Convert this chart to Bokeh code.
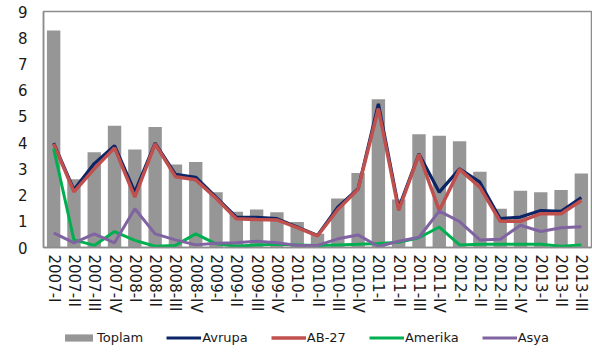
from bokeh.plotting import figure
from bokeh.layouts import column
from bokeh.models import FactorRange, Range1d, Legend, LegendItem, FixedTicker, ColumnDataSource
from bokeh.embed import file_html
from bokeh.resources import INLINE

categories = ["2007-I", "2007-II", "2007-III", "2007-IV",
              "2008-I", "2008-II", "2008-III", "2008-IV",
              "2009-I", "2009-II", "2009-III", "2009-IV",
              "2010-I", "2010-II", "2010-III", "2010-IV",
              "2011-I", "2011-II", "2011-III", "2011-IV",
              "2012-I", "2012-II", "2012-III", "2012-IV",
              "2013-I", "2013-II", "2013-III"]

toplam = [8.28, 2.60, 3.63, 4.64, 3.74, 4.60, 3.17, 3.26,
          2.11, 1.36, 1.45, 1.34, 0.97, 0.52, 1.87, 2.84,
          5.65, 1.83, 4.32, 4.26, 4.05, 2.89, 1.48, 2.16,
          2.11, 2.19, 2.82]

avrupa = [3.98, 2.20, 3.20, 3.88, 2.11, 3.98, 2.79, 2.68,
          1.92, 1.16, 1.15, 1.10, 0.78, 0.46, 1.54, 2.24,
          5.48, 1.50, 3.57, 2.11, 3.00, 2.49, 1.10, 1.16,
          1.41, 1.38, 1.90]

ab27 = [3.95, 2.12, 3.00, 3.80, 1.92, 3.95, 2.70, 2.58,
        1.88, 1.10, 1.07, 1.05, 0.76, 0.44, 1.45, 2.22,
        5.30, 1.41, 3.55, 1.41, 2.98, 2.30, 1.00, 1.00,
        1.29, 1.29, 1.79]

amerika = [3.77, 0.29, 0.08, 0.61, 0.27, 0.05, 0.08, 0.52,
           0.14, 0.05, 0.10, 0.12, 0.10, 0.08, 0.10, 0.12,
           0.15, 0.20, 0.37, 0.78, 0.10, 0.12, 0.12, 0.12,
           0.12, 0.05, 0.10]

asya = [0.56, 0.18, 0.52, 0.18, 1.48, 0.52, 0.29, 0.10,
        0.16, 0.18, 0.24, 0.18, 0.08, 0.08, 0.33, 0.48,
        0.04, 0.24, 0.39, 1.39, 0.99, 0.29, 0.31, 0.85,
        0.61, 0.75, 0.79]

y_ticks = [0, 1, 2, 3, 4, 5, 6, 7, 8, 9]

series_names = ["Toplam", "Avrupa", "AB-27", "Amerika", "Asya"]

FONT = "DejaVu Sans"
AXIS_GRAY = "#8C8C8C"
C_BAR = "#969696"
C_AV = "#0B2466"
C_AB = "#C0504D"
C_AM = "#00B050"
C_AS = "#8064A2"

src = ColumnDataSource(dict(cat=categories, toplam=toplam, avrupa=avrupa,
                            ab27=ab27, amerika=amerika, asya=asya))


def draw_series(fig):
    rs = [fig.vbar(x="cat", top="toplam", width=0.66, source=src,
                   fill_color=C_BAR, line_color=None),
          fig.line(x="cat", y="avrupa", source=src, line_color=C_AV, line_width=3.2),
          fig.line(x="cat", y="ab27", source=src, line_color=C_AB, line_width=3.5),
          fig.line(x="cat", y="amerika", source=src, line_color=C_AM, line_width=3),
          fig.line(x="cat", y="asya", source=src, line_color=C_AS, line_width=3)]
    return rs


p = figure(x_range=FactorRange(*categories, range_padding=0),
           y_range=(0, 9),
           width=592, height=322,
           output_backend="svg", toolbar_location=None,
           min_border_left=43, min_border_right=1,
           min_border_top=11, min_border_bottom=75)
draw_series(p)

p.xgrid.grid_line_color = None
p.ygrid.grid_line_color = None
p.outline_line_color = AXIS_GRAY
p.outline_line_width = 1.5
p.background_fill_color = "white"
p.border_fill_color = "white"

yax = p.yaxis[0]
yax.ticker = FixedTicker(ticks=y_ticks)
yax.axis_line_color = AXIS_GRAY
yax.axis_line_width = 1.5
yax.major_tick_line_color = None
yax.minor_tick_line_color = None
yax.major_tick_out = 0
yax.major_label_standoff = 16
yax.major_label_text_font = FONT
yax.major_label_text_font_size = "15px"
yax.major_label_text_color = "#1a1a1a"

xax = p.xaxis[0]
xax.axis_line_color = AXIS_GRAY
xax.axis_line_width = 1.5
xax.major_tick_line_color = None
xax.minor_tick_line_color = None
xax.major_tick_out = 0
xax.major_label_standoff = 7
xax.major_label_orientation = "vertical"
xax.major_label_text_font = FONT
xax.major_label_text_font_size = "15px"
xax.major_label_text_color = "#1a1a1a"

# legend strip below the chart: same series, drawn out of view so only the legend shows
lg = figure(x_range=FactorRange(*categories, range_padding=0),
            y_range=Range1d(100, 101),
            width=592, height=30, output_backend="svg", toolbar_location=None,
            x_axis_type=None, y_axis_type=None,
            min_border_left=0, min_border_right=0,
            min_border_top=0, min_border_bottom=0)
lg.outline_line_color = None
lg.xgrid.grid_line_color = None
lg.ygrid.grid_line_color = None
lg_rs = draw_series(lg)

legend = Legend(items=[LegendItem(label=n, renderers=[r]) for n, r in zip(series_names, lg_rs)],
                orientation="horizontal", location=(18, 7))
legend.border_line_color = None
legend.background_fill_alpha = 0
legend.padding = 0
legend.margin = 0
legend.spacing = 23
legend.glyph_width = 35
legend.glyph_height = 9
legend.label_standoff = 1
legend.label_text_font = FONT
legend.label_text_font_size = "13px"
legend.label_text_color = "#1a1a1a"
lg.add_layout(legend, "center")

layout = column(p, lg, spacing=0)

open("out.html", "w").write(file_html(layout, INLINE))
